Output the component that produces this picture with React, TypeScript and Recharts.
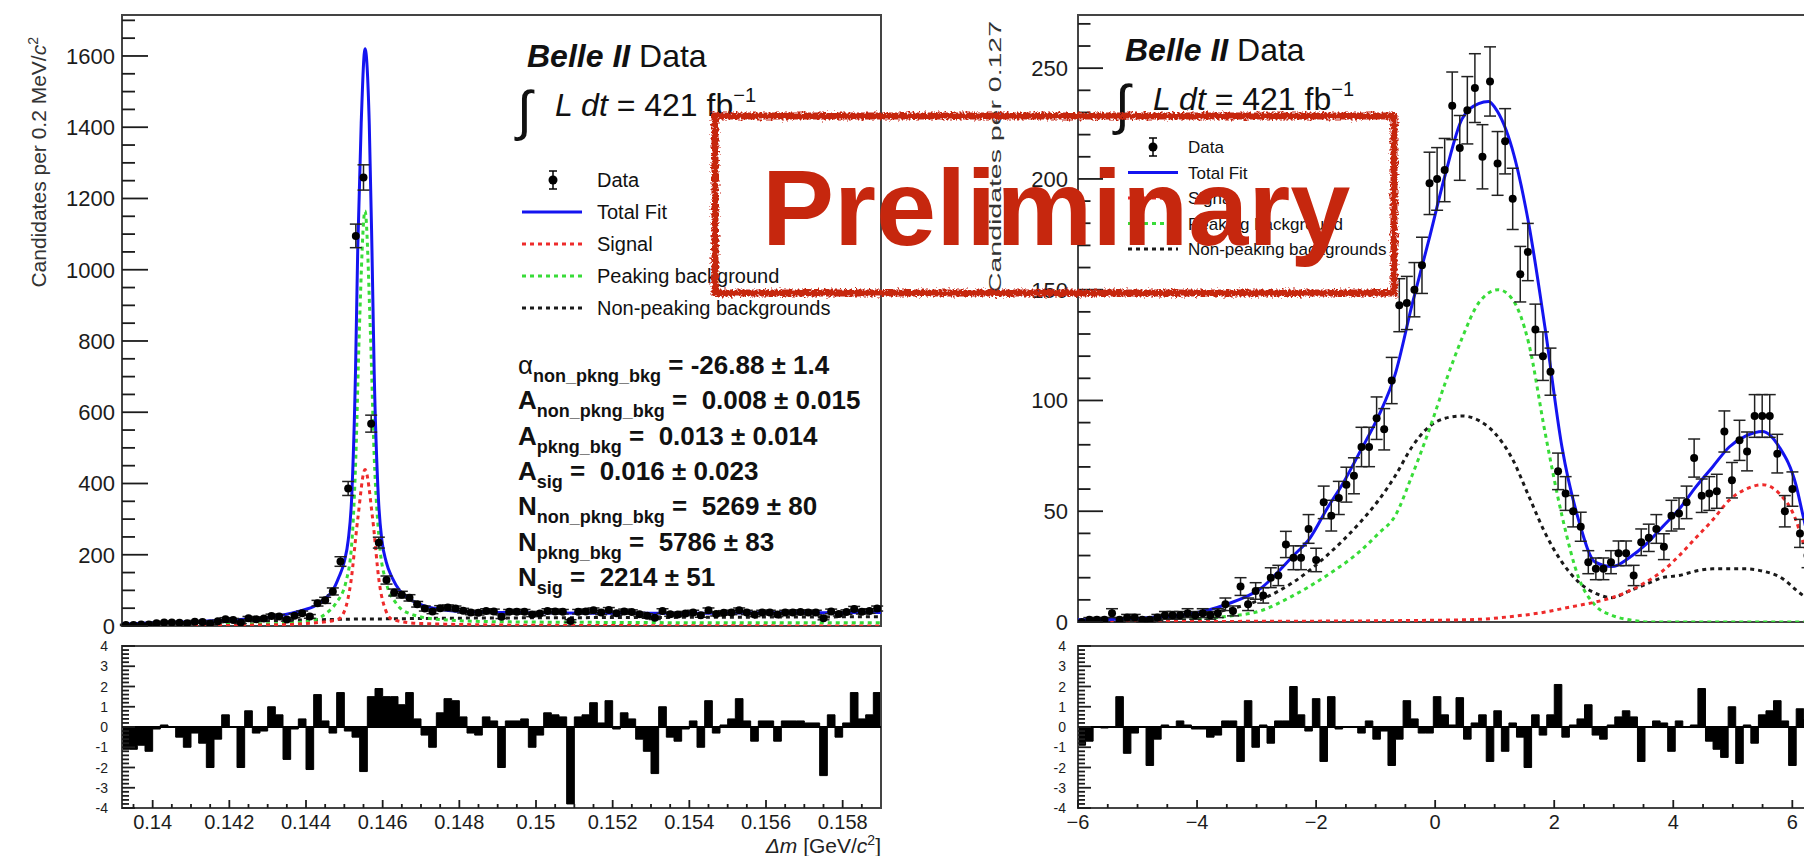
import React from "react";
import {
  ComposedChart,
  Line,
  Area,
  Scatter,
  ErrorBar,
  XAxis,
  YAxis,
  ReferenceArea,
  ReferenceLine,
} from "recharts";

const FONT = '"Liberation Sans", Arial, Helvetica, sans-serif';
const INK = "#1c1c1c";
const BLUE = "#1414f0";
const RED = "#ee2b2b";
const GREEN = "#38dc38";
const DARK = "#1a1a1a";
const STAMP = "#c6270e";

// ---------- left: delta-m fit, bins of 0.2 MeV ----------
const LEFT_LO = 0.1392;
const LEFT_HI = 0.159;
const LEFT_BIN = 0.0002;

const leftCounts = [
  3, 3, 4, 4, 8, 10, 10, 9, 8, 12,
  11, 7, 13, 19, 17, 10, 22, 19, 21, 28,
  27, 18, 29, 36, 27, 64, 72, 97, 181, 386,
  1095, 1259, 568, 234, 129, 94, 88, 79, 61, 49,
  41, 50, 52, 49, 43, 38, 37, 42, 41, 26,
  40, 40, 40, 32, 35, 42, 41, 40, 14, 40,
  41, 44, 38, 45, 36, 41, 39, 33, 29, 23,
  42, 33, 32, 35, 38, 30, 44, 34, 37, 38,
  44, 38, 32, 38, 38, 32, 38, 38, 39, 38,
  38, 22, 41, 34, 39, 48, 40, 42, 49,
];

const leftPulls = [
  -1.1, -1.1, -0.9, -1.2, -0.1, 0.1, 0, -0.5, -1.0, -0.3,
  -0.8, -2.0, -0.6, 0.6, 0, -2.0, 0.8, -0.3, -0.2, 1.0,
  0.6, -1.6, -0.1, 0.4, -2.1, 1.6, 0.3, -0.3, 1.7, -0.2,
  -0.5, -2.2, 1.5, 1.9, 1.5, 1.5, 1.1, 1.7, 0.4, -0.4,
  -1.0, 0.7, 1.4, 1.3, 0.5, -0.3, -0.4, 0.5, 0.3, -2.0,
  0.3, 0.3, 0.4, -1.0, -0.4, 0.7, 0.6, 0.5, -3.8, 0.5,
  0.6, 1.2, 0.2, 1.3, -0.1, 0.7, 0.4, -0.6, -1.2, -2.3,
  1.0, -0.5, -0.7, -0.1, 0.3, -1.0, 1.3, -0.3, 0.1, 0.4,
  1.4, 0.3, -0.7, 0.3, 0.3, -0.7, 0.3, 0.3, 0.3, 0.2,
  0.2, -2.4, 0.6, -0.5, 0.2, 1.7, 0.4, 0.6, 1.7,
];

const leftTotalX = [0.1392, 0.14, 0.141, 0.142, 0.143, 0.1438, 0.14426, 0.14448, 0.1447, 0.14485, 0.145, 0.1451, 0.14519, 0.14529, 0.14535, 0.14544, 0.14554, 0.14565, 0.14572, 0.14578, 0.14589, 0.14598, 0.14609, 0.14625, 0.14644, 0.1467, 0.14705, 0.14748, 0.148, 0.149, 0.15, 0.152, 0.154, 0.156, 0.159];
const leftTotalY = [5, 9, 12, 17, 24, 41, 58, 76, 100, 135, 181, 240, 357, 708, 1060, 1411, 1620, 1411, 1060, 708, 357, 240, 181, 135, 100, 76, 58, 47, 41, 38, 37, 36, 36, 37, 38];

const leftPeakX = [0.1392, 0.141, 0.143, 0.144, 0.14452, 0.14478, 0.14504, 0.1452, 0.1453, 0.14539, 0.14554, 0.14568, 0.14578, 0.14591, 0.14609, 0.14635, 0.1467, 0.1475, 0.149, 0.152, 0.156, 0.159];
const leftPeakY = [2, 3, 6, 12, 35, 64, 123, 240, 474, 825, 1165, 825, 474, 240, 123, 64, 35, 18, 12, 10, 9, 9];

const leftSigX = [0.1392, 0.143, 0.144, 0.14482, 0.145, 0.14517, 0.14535, 0.14554, 0.14574, 0.14591, 0.14609, 0.14626, 0.147, 0.15, 0.159];
const leftSigY = [0, 3, 7, 18, 41, 123, 300, 439, 300, 123, 41, 18, 7, 2, 0];

const leftBkgX = [0.1392, 0.14, 0.141, 0.142, 0.143, 0.144, 0.145, 0.146, 0.148, 0.15, 0.153, 0.156, 0.159];
const leftBkgY = [2, 6, 9, 12, 15, 17, 19, 20, 22, 23, 24, 25, 26];

const leftXMajor = [0.14, 0.142, 0.144, 0.146, 0.148, 0.15, 0.152, 0.154, 0.156, 0.158];
const leftYMajor = [0, 200, 400, 600, 800, 1000, 1200, 1400, 1600];

// ---------- right: fit variable, bins of 0.127 ----------
const RIGHT_LO = -6;
const RIGHT_HI = 6.7;
const RIGHT_BIN = 0.127;

const rightCounts = [
  0, 1, 1, 1, 4, 1, 2, 2, 1, 1,
  2, 3, 3, 3, 4, 3, 4, 3, 4, 8,
  5, 16, 8, 14, 12, 20, 21, 35, 29, 29,
  42, 28, 54, 48, 56, 62, 66, 79, 79, 92,
  87, 109, 143, 144, 150, 161, 198, 200, 204, 233,
  214, 231, 241, 210, 244, 207, 217, 191, 157, 167,
  132, 120, 113, 68, 58, 50, 43, 27, 24, 24,
  27, 31, 31, 21, 36, 38, 42, 34, 48, 49,
  54, 74, 57, 58, 59, 86, 64, 82, 77, 93,
  93, 93, 76, 50, 60, 40, 30, 22, 15, 10,
];

const rightPulls = [
  -0.9, -0.7, 0, -0.05, 0, 1.5, -1.3, -0.3, 0, -1.9,
  -0.6, 0.1, 0, 0.3, 0.1, -0.1, -0.1, -0.5, -0.4, 0.3,
  0.3, -1.7, 1.3, -1.0, 0.1, -0.8, 0.3, 0.3, 2.0, 0.6,
  -0.2, 1.4, -1.7, 1.5, -0.1, 0, 0, -0.3, 0.3, -0.6,
  -0.2, -1.9, -0.6, 1.3, 0.4, -0.3, -0.3, 1.5, 0.6, 0.1,
  1.45, -0.6, 0.2, 0.6, -1.7, 0.8, -1.2, 0.2, -0.5, -2.0,
  0.6, -0.4, 0.6, 2.1, -0.5, 0.1, 0.4, 1.1, -0.4, -0.6,
  0.1, 0.5, 0.8, 0.5, -1.7, 0, 0.3, 0.2, -1.2, 0.3,
  0, 0.1, 1.9, -0.7, -1.1, -1.5, 1.0, -1.8, 0.1, -0.8,
  0.6, 0.8, 1.3, 0.3, -1.9, 0.9, 0.4, -0.3, 0.2, 0.5,
];

const rightTotalX = [-6, -5.2, -4.6, -4.1, -3.5, -2.94, -2.38, -2.1, -1.82, -1.54, -1.26, -0.95, -0.67, -0.39, -0.11, 0.17, 0.45, 0.73, 0.9, 1.01, 1.29, 1.57, 1.85, 2.13, 2.41, 2.69, 2.97, 3.26, 3.54, 3.82, 4.1, 4.38, 4.66, 4.94, 5.22, 5.5, 5.78, 6.06, 6.18, 6.4, 6.7];
const rightTotalY = [1, 1.3, 2.4, 3.7, 8, 15, 30, 38, 51, 63, 77, 93, 112, 143, 172, 202, 227, 234, 235, 232, 214, 180, 132, 79, 46, 27, 25, 29, 35, 43, 51, 61, 70, 79, 84, 86, 79, 62, 48, 24, 9];

const rightPeakX = [-6, -4.6, -4.06, -3.5, -2.94, -2.38, -1.82, -1.26, -0.95, -0.67, -0.39, -0.11, 0.17, 0.45, 0.73, 1.06, 1.29, 1.57, 1.85, 2.13, 2.41, 2.69, 2.97, 3.26, 3.6, 6.7];
const rightPeakY = [0, 0.5, 1, 2.5, 5, 12, 21, 32, 40, 48, 66, 86, 108, 128, 144, 150, 146, 126, 85, 48, 20, 7.5, 3, 1, 0, 0];

const rightBkgX = [-6, -4.6, -4.06, -3.5, -2.94, -2.38, -1.82, -1.26, -0.95, -0.67, -0.39, -0.11, 0.17, 0.45, 0.73, 1.01, 1.29, 1.57, 1.85, 2.13, 2.41, 2.69, 2.97, 3.26, 3.54, 3.82, 4.1, 4.38, 4.66, 4.94, 5.22, 5.5, 5.78, 6.18, 6.7];
const rightBkgY = [0.5, 1.5, 3, 5.5, 10, 18, 30, 45, 55, 66, 79, 88, 92, 93, 91, 85, 74, 57, 40, 27, 18, 13, 11, 14, 17, 20, 21, 23, 24, 24, 24, 23, 20.5, 12, 5];

const rightSigX = [-6, -3, 0, 0.73, 1.29, 1.85, 2.13, 2.41, 2.69, 2.97, 3.26, 3.54, 3.82, 4.1, 4.38, 4.66, 4.94, 5.22, 5.5, 5.78, 6.06, 6.18, 6.4, 6.7];
const rightSigY = [0.2, 0.3, 0.8, 1.2, 2.5, 4.5, 6, 7.5, 9, 11, 14, 18, 23, 30, 38, 46, 55, 60, 62, 58, 46, 36, 22, 10];

const rightXMajor = [-6, -4, -2, 0, 2, 4, 6];
const rightYMajor = [0, 50, 100, 150, 200, 250];
const pullMajor = [-4, -3, -2, -1, 0, 1, 2, 3, 4];

const legendLabels = ["Data", "Total Fit", "Signal", "Peaking background", "Non-peaking backgrounds"];

const statRows = [
  { sym: "α", sub: "non_pkng_bkg", rest: " = -26.88 ± 1.4" },
  { sym: "A", sub: "non_pkng_bkg", rest: " =  0.008 ± 0.015" },
  { sym: "A", sub: "pkng_bkg", rest: " =  0.013 ± 0.014" },
  { sym: "A", sub: "sig", rest: " =  0.016 ± 0.023" },
  { sym: "N", sub: "non_pkng_bkg", rest: " =  5269 ± 80" },
  { sym: "N", sub: "pkng_bkg", rest: " =  5786 ± 83" },
  { sym: "N", sub: "sig", rest: " =  2214 ± 51" },
];

// ---------- helpers ----------
const pairs = (xs: number[], ys: number[]) => xs.map((x, i) => ({ x, y: ys[i] }));
const steps = (from: number, to: number, step: number) => {
  const out: number[] = [];
  for (let i = 0; from + i * step <= to + 1e-9; i++) out.push(+(from + i * step).toFixed(6));
  return out;
};
// data points sit at bin centres, error = sqrt(N)
const histPoints = (counts: number[], lo: number, w: number) =>
  counts.map((n, i) => ({ x: +(lo + (i + 0.5) * w).toFixed(6), y: n, e: Math.sqrt(n) }));
// step outline of the pull histogram: one point per bin edge
const pullSteps = (pulls: number[], lo: number, w: number) => {
  const rows = pulls.map((v, i) => ({ x: +(lo + i * w).toFixed(6), y: v }));
  rows.push({ x: +(lo + pulls.length * w).toFixed(6), y: pulls[pulls.length - 1] });
  return rows;
};

type TickOpts = {
  majors: number[];
  majorLen: number;
  minorLen: number;
  gap: number;
  side: "left" | "bottom";
  fmt?: (v: number) => string;
  size?: number;
};

function ticker(o: TickOpts) {
  return (props: any) => {
    const v = Number(props.payload?.value);
    const major = o.majors.some((m) => Math.abs(m - v) < 1e-7);
    const len = major ? o.majorLen : o.minorLen;
    const { x, y } = props;
    if (o.side === "left") {
      const x0 = x + o.gap;
      return (
        <g>
          <line x1={x0} y1={y} x2={x0 + len} y2={y} stroke={INK} strokeWidth={1.8} />
          {major && o.fmt ? (
            <text x={x} y={y} dy="0.36em" textAnchor="end" fontSize={o.size} fontFamily={FONT} fill={INK}>
              {o.fmt(v)}
            </text>
          ) : null}
        </g>
      );
    }
    const y0 = y - o.gap;
    return (
      <g>
        <line x1={x} y1={y0} x2={x} y2={y0 - len} stroke={INK} strokeWidth={1.8} />
        {major && o.fmt ? (
          <text x={x} y={y} dy="0.36em" textAnchor="middle" fontSize={o.size} fontFamily={FONT} fill={INK}>
            {o.fmt(v)}
          </text>
        ) : null}
      </g>
    );
  };
}

const signed = (v: number) => (v < 0 ? "\u2212" + Math.abs(v) : String(v));

interface FitProps {
  width: number;
  height: number;
  margin: { top: number; right: number; bottom: number; left: number };
  yAxisW: number;
  xDom: [number, number];
  yDom: [number, number];
  xTicks: number[];
  xMajor: number[];
  yTicks: number[];
  yMajor: number[];
  yGap: number;
  yMajorLen: number;
  points: { x: number; y: number; e: number }[];
  total: { x: number; y: number }[];
  peaking: { x: number; y: number }[];
  nonPeaking: { x: number; y: number }[];
  signal: { x: number; y: number }[];
}

function FitPanel(p: FitProps) {
  return (
    <ComposedChart width={p.width} height={p.height} margin={p.margin}>
      <XAxis
        type="number"
        dataKey="x"
        domain={p.xDom}
        allowDataOverflow
        ticks={p.xTicks}
        interval={0}
        height={0}
        tickSize={0}
        tickMargin={0}
        axisLine={false}
        tickLine={false}
        tick={ticker({ majors: p.xMajor, majorLen: 14, minorLen: 7, gap: 0, side: "bottom" })}
      />
      <YAxis
        type="number"
        domain={p.yDom}
        allowDataOverflow
        ticks={p.yTicks}
        interval={0}
        width={p.yAxisW}
        tickSize={0}
        tickMargin={p.yGap}
        axisLine={false}
        tickLine={false}
        tick={ticker({
          majors: p.yMajor,
          majorLen: p.yMajorLen,
          minorLen: p.yMajorLen / 2,
          gap: p.yGap,
          side: "left",
          fmt: (v) => String(v),
          size: 22,
        })}
      />
      <Line data={p.nonPeaking} dataKey="y" type="monotone" stroke={DARK} strokeWidth={3} strokeDasharray="4 4" dot={false} isAnimationActive={false} />
      <Line data={p.peaking} dataKey="y" type="monotone" stroke={GREEN} strokeWidth={3} strokeDasharray="4 4" dot={false} isAnimationActive={false} />
      <Line data={p.signal} dataKey="y" type="monotone" stroke={RED} strokeWidth={3} strokeDasharray="4 4" dot={false} isAnimationActive={false} />
      <Line data={p.total} dataKey="y" type="monotone" stroke={BLUE} strokeWidth={3} dot={false} isAnimationActive={false} />
      <Scatter
        data={p.points}
        dataKey="y"
        isAnimationActive={false}
        shape={(s: any) => <circle cx={s.cx} cy={s.cy} r={4} fill="#000" />}
      >
        <ErrorBar dataKey="e" direction="y" width={6} stroke="#222" strokeWidth={1.5} />
      </Scatter>
      <ReferenceArea x1={p.xDom[0]} x2={p.xDom[1]} y1={p.yDom[0]} y2={p.yDom[1]} fill="none" fillOpacity={0} stroke="#444" strokeWidth={2} />
    </ComposedChart>
  );
}

interface PullProps {
  width: number;
  height: number;
  margin: { top: number; right: number; bottom: number; left: number };
  yAxisW: number;
  yGap: number;
  lo: number;
  hi: number;
  binW: number;
  xTicks: number[];
  xMajor: number[];
  fmt: (v: number) => string;
  pulls: number[];
}

function PullPanel(p: PullProps) {
  return (
    <ComposedChart width={p.width} height={p.height} margin={p.margin}>
      <XAxis
        type="number"
        dataKey="x"
        domain={[p.lo, p.hi]}
        allowDataOverflow
        ticks={p.xTicks}
        interval={0}
        height={48}
        tickSize={0}
        tickMargin={14}
        axisLine={false}
        tickLine={false}
        tick={ticker({ majors: p.xMajor, majorLen: 8, minorLen: 4, gap: 14, side: "bottom", fmt: p.fmt, size: 20 })}
      />
      <YAxis
        type="number"
        domain={[-4, 4]}
        allowDataOverflow
        ticks={steps(-4, 4, 0.2)}
        interval={0}
        width={p.yAxisW}
        tickSize={0}
        tickMargin={p.yGap}
        axisLine={false}
        tickLine={false}
        tick={ticker({
          majors: pullMajor,
          majorLen: 13,
          minorLen: 7,
          gap: p.yGap,
          side: "left",
          fmt: (v) => String(v),
          size: 14,
        })}
      />
      <Area
        data={pullSteps(p.pulls, p.lo, p.binW)}
        dataKey="y"
        type="stepAfter"
        baseValue={0}
        stroke="#000"
        strokeWidth={1}
        fill="#000"
        fillOpacity={1}
        dot={false}
        activeDot={false}
        isAnimationActive={false}
      />
      <ReferenceLine y={0} stroke="#000" strokeWidth={2} />
      <ReferenceArea x1={p.lo} x2={p.hi} y1={-4} y2={4} fill="none" fillOpacity={0} stroke="#444" strokeWidth={2} />
    </ComposedChart>
  );
}

function Legend({ x, y, dy, size, markX, lineX1, lineX2 }: { x: number; y: number; dy: number; size: number; markX: number; lineX1: number; lineX2: number }) {
  const styles = [null, { c: BLUE, d: undefined }, { c: RED, d: "4 4" }, { c: GREEN, d: "4 4" }, { c: DARK, d: "4 4" }];
  return (
    <g>
      {legendLabels.map((lab, i) => {
        const cy = y + i * dy;
        const st = styles[i];
        return (
          <g key={lab}>
            {st ? (
              <line x1={lineX1} x2={lineX2} y1={cy} y2={cy} stroke={st.c} strokeWidth={3} strokeDasharray={st.d} />
            ) : (
              <g>
                <line x1={markX} x2={markX} y1={cy - 9} y2={cy + 9} stroke="#000" strokeWidth={1.5} />
                <line x1={markX - 4} x2={markX + 4} y1={cy - 9} y2={cy - 9} stroke="#000" strokeWidth={1.5} />
                <line x1={markX - 4} x2={markX + 4} y1={cy + 9} y2={cy + 9} stroke="#000" strokeWidth={1.5} />
                <circle cx={markX} cy={cy} r={4.5} fill="#000" />
              </g>
            )}
            <text x={x} y={cy} dy="0.36em" fontSize={size} fontFamily={FONT} fill="#111">
              {lab}
            </text>
          </g>
        );
      })}
    </g>
  );
}

function Header({ x, y }: { x: number; y: number }) {
  return (
    <g fontFamily={FONT} fill="#111">
      <text x={x} y={y} fontSize={32}>
        <tspan fontWeight="bold" fontStyle="italic">Belle II</tspan>
        <tspan> Data</tspan>
      </text>
      <text x={x - 10} y={y + 62} fontSize={54} fontStyle="italic">∫</text>
      <text x={x + 28} y={y + 49} fontSize={32} style={{ whiteSpace: "pre" }}>
        <tspan fontStyle="italic">L dt</tspan>
        <tspan> = 421 fb</tspan>
        <tspan dy={-14} fontSize={20}>−1</tspan>
      </text>
    </g>
  );
}

export default function App() {
  const leftPts = histPoints(leftCounts, LEFT_LO, LEFT_BIN);
  const rightPts = histPoints(rightCounts, RIGHT_LO, RIGHT_BIN);

  return (
    <div
      style={{
        position: "absolute",
        left: 0,
        top: 0,
        width: 1804,
        height: 856,
        overflow: "hidden",
        background: "#fff",
        fontFamily: FONT,
      }}
    >
      <div style={{ position: "absolute", left: 0, top: 0 }}>
        <FitPanel
          width={900}
          height={640}
          margin={{ top: 15, right: 19, bottom: 14, left: 0 }}
          yAxisW={122}
          xDom={[LEFT_LO, LEFT_HI]}
          yDom={[0, 1715]}
          xTicks={steps(0.1395, 0.1585, 0.0005)}
          xMajor={leftXMajor}
          yTicks={steps(0, 1700, 50)}
          yMajor={leftYMajor}
          yGap={7}
          yMajorLen={26}
          points={leftPts}
          total={pairs(leftTotalX, leftTotalY)}
          peaking={pairs(leftPeakX, leftPeakY)}
          nonPeaking={pairs(leftBkgX, leftBkgY)}
          signal={pairs(leftSigX, leftSigY)}
        />
      </div>
      <div style={{ position: "absolute", left: 0, top: 630 }}>
        <PullPanel
          width={900}
          height={226}
          margin={{ top: 16, right: 19, bottom: 0, left: 0 }}
          yAxisW={122}
          yGap={14}
          lo={LEFT_LO}
          hi={LEFT_HI}
          binW={LEFT_BIN}
          xTicks={steps(0.1395, 0.1585, 0.0005)}
          xMajor={leftXMajor}
          fmt={(v) => String(v)}
          pulls={leftPulls}
        />
      </div>
      <div style={{ position: "absolute", left: 960, top: 0 }}>
        <FitPanel
          width={884}
          height={640}
          margin={{ top: 15, right: 10, bottom: 18, left: 0 }}
          yAxisW={118}
          xDom={[RIGHT_LO, RIGHT_HI]}
          yDom={[0, 274]}
          xTicks={steps(-6, 6.5, 0.5)}
          xMajor={rightXMajor}
          yTicks={steps(0, 270, 10)}
          yMajor={rightYMajor}
          yGap={10}
          yMajorLen={25}
          points={rightPts}
          total={pairs(rightTotalX, rightTotalY)}
          peaking={pairs(rightPeakX, rightPeakY)}
          nonPeaking={pairs(rightBkgX, rightBkgY)}
          signal={pairs(rightSigX, rightSigY)}
        />
      </div>
      <div style={{ position: "absolute", left: 960, top: 630 }}>
        <PullPanel
          width={884}
          height={226}
          margin={{ top: 16, right: 10, bottom: 0, left: 0 }}
          yAxisW={118}
          yGap={12}
          lo={RIGHT_LO}
          hi={RIGHT_HI}
          binW={RIGHT_BIN}
          xTicks={steps(-6, 6.5, 0.5)}
          xMajor={rightXMajor}
          fmt={signed}
          pulls={rightPulls}
        />
      </div>

      <svg width={1804} height={856} style={{ position: "absolute", left: 0, top: 0, pointerEvents: "none" }}>
        <defs>
          <filter id="rough" x="-5%" y="-10%" width="110%" height="120%">
            <feTurbulence type="fractalNoise" baseFrequency="0.45" numOctaves={2} result="noise" />
            <feDisplacementMap in="SourceGraphic" in2="noise" scale={7} />
          </filter>
        </defs>

        {/* axis titles */}
        <text transform="translate(46,37) rotate(-90)" textAnchor="end" fontSize={21} fontFamily={FONT} fill="#333">
          Candidates per 0.2 MeV/<tspan fontStyle="italic">c</tspan>
          <tspan dy={-8} fontSize={14}>2</tspan>
        </text>
        <text
          transform="translate(1001,21) rotate(-90)"
          textAnchor="end"
          fontSize={16}
          fontFamily={FONT}
          fill="#333"
          textLength={272}
          lengthAdjust="spacingAndGlyphs"
        >
          Candidates per 0.127
        </text>
        <text x={881} y={853} textAnchor="end" fontSize={21} fontFamily={FONT} fill="#222">
          <tspan fontStyle="italic">Δm</tspan> [GeV/<tspan fontStyle="italic">c</tspan>
          <tspan dy={-8} fontSize={14}>2</tspan>
          <tspan dy={8}>]</tspan>
        </text>

        {/* left panel text */}
        <Header x={527} y={67} />
        <Legend x={597} y={180} dy={32} size={20} markX={553} lineX1={522} lineX2={582} />
        <g fontFamily={FONT} fill="#111">
          {statRows.map((r, i) => (
            <text key={i} x={518} y={374 + i * 35.3} fontSize={26} fontWeight="bold" style={{ whiteSpace: "pre" }}>
              <tspan fontWeight={r.sym === "α" ? "normal" : "bold"}>{r.sym}</tspan>
              <tspan fontSize={18} dy={8}>{r.sub}</tspan>
              <tspan dy={-8}>{r.rest}</tspan>
            </text>
          ))}
        </g>

        {/* right panel text */}
        <Header x={1125} y={61} />
        <Legend x={1188} y={147} dy={25.5} size={17} markX={1153} lineX1={1128} lineX2={1178} />

        {/* stamp */}
        <rect x={715} y={116} width={679} height={177} fill="none" stroke={STAMP} strokeWidth={7} filter="url(#rough)" />
        <text x={762} y={245} fontSize={108} fontWeight="bold" fontFamily={FONT} fill={STAMP}>
          Preliminary
        </text>
      </svg>
    </div>
  );
}
